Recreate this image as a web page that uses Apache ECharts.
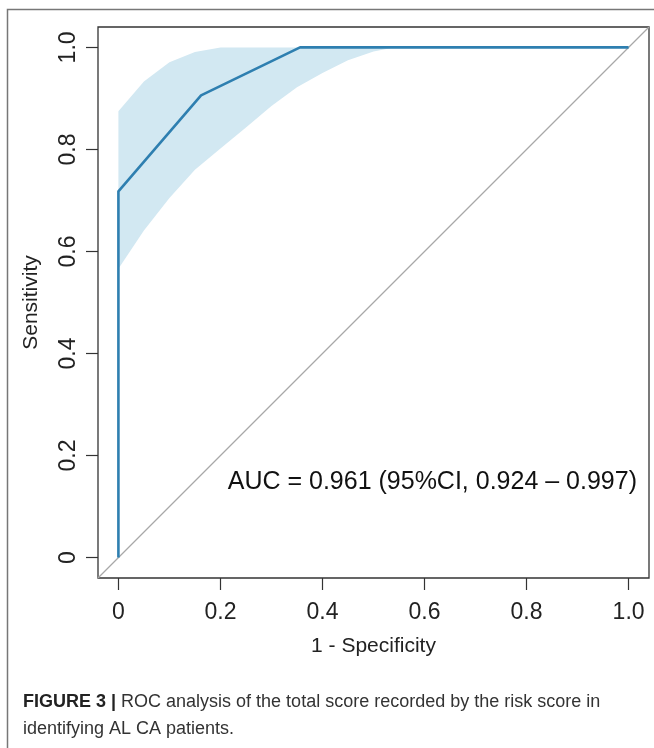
<!DOCTYPE html>
<html>
<head>
<meta charset="utf-8">
<script src="https://cdn.jsdelivr.net/npm/echarts@6/dist/echarts.min.js"></script>
<style>
  html, body { margin: 0; padding: 0; background: #fff; }
  #chart { width: 654px; height: 748px; }
</style>
</head>
<body>
<div id="chart"></div>
<script>
// ROC curve (1 - specificity, sensitivity)
const rocX = [0, 0, 0.162, 0.356, 1.0]
const rocY = [0, 0.718, 0.906, 1.0, 1.0]

// 95% CI band of sensitivity
const ciX = [0, 0.05, 0.1, 0.15, 0.2, 0.25, 0.3, 0.35, 0.4, 0.45, 0.5, 0.54, 1.0]
const ciUpper = [0.875, 0.933, 0.971, 0.991, 1.0, 1.0, 1.0, 1.0, 1.0, 1.0, 1.0, 1.0, 1.0]
const ciLower = [0.566, 0.641, 0.705, 0.760, 0.802, 0.843, 0.885, 0.922, 0.950, 0.975, 0.992, 1.0, 1.0]

// chance line
const diagX = [-0.04, 1.04]

const tickValues = [0, 0.2, 0.4, 0.6, 0.8, 1.0]
const aucText = 'AUC = 0.961 (95%CI, 0.924 \u2013 0.997)'

const chart = echarts.init(document.getElementById('chart'), null, { renderer: 'canvas' })

const fontFam = '"Liberation Sans", Arial, Helvetica, sans-serif'
const fmt = v => (v === 0 ? '0' : v.toFixed(1))

const axisCommon = {
  type: 'value',
  min: -0.04,
  max: 1.04,
  axisLine: { show: false, onZero: false },
  splitLine: { show: false },
  axisTick: { show: true, inside: false, length: 12, customValues: tickValues, lineStyle: { color: '#333', width: 1.2 } },
  nameLocation: 'middle',
  nameTextStyle: { fontFamily: fontFam, fontSize: 21, color: '#222' }
}

chart.setOption({
  animation: false,
  backgroundColor: '#fff',
  grid: {
    left: 98, top: 27, width: 551, height: 551,
    show: true, borderColor: '#333', borderWidth: 1.3, backgroundColor: '#fff'
  },
  xAxis: Object.assign({}, axisCommon, {
    name: '1 - Specificity',
    nameGap: 58,
    axisLabel: { customValues: tickValues, formatter: fmt, margin: 23, fontFamily: fontFam, fontSize: 23, color: '#222' }
  }),
  yAxis: Object.assign({}, axisCommon, {
    name: 'Sensitivity',
    nameGap: 56,
    axisLabel: { customValues: tickValues, formatter: fmt, margin: 18, rotate: 90, fontFamily: fontFam, fontSize: 23, color: '#222' }
  }),
  series: [
    {
      // CI band drawn as one polygon
      type: 'custom',
      silent: true,
      z: 1,
      data: [[0, 0]],
      renderItem(params, api) {
        const pts = []
        ciX.forEach((x, i) => pts.push(api.coord([x, ciUpper[i]])))
        for (let i = ciX.length - 1; i >= 0; i--) pts.push(api.coord([ciX[i], ciLower[i]]))
        return {
          type: 'polygon',
          shape: { points: pts },
          style: { fill: '#d2e8f2', stroke: null }
        }
      }
    },
    {
      type: 'line',
      silent: true,
      z: 2,
      symbol: 'none',
      data: diagX.map(v => [v, v]),
      lineStyle: { color: '#a8a8a8', width: 1.2 }
    },
    {
      type: 'line',
      silent: true,
      z: 3,
      symbol: 'none',
      data: rocX.map((x, i) => [x, rocY[i]]),
      lineStyle: { color: '#2e7fb0', width: 2.6 }
    }
  ],
  graphic: [
    // figure panel frame (top and left edges)
    {
      type: 'polyline',
      shape: { points: [[654, 9.5], [7.5, 9.5], [7.5, 748]] },
      style: { stroke: '#777', lineWidth: 1.5, fill: null }
    },
    {
      type: 'text',
      right: 17,
      top: 470,
      style: { text: aucText, fontFamily: fontFam, fontSize: 25, fill: '#111' }
    },
    {
      type: 'text',
      left: 23,
      top: 693,
      style: {
        text: '{b|FIGURE 3 |} ROC analysis of the total score recorded by the risk score in',
        fontFamily: fontFam,
        fontSize: 18,
        fill: '#333',
        rich: { b: { fontWeight: 'bold', fontFamily: fontFam, fontSize: 18, fill: '#222' } }
      }
    },
    {
      type: 'text',
      left: 23,
      top: 720,
      style: { text: 'identifying AL CA patients.', fontFamily: fontFam, fontSize: 18, fill: '#333' }
    }
  ]
})
</script>
</body>
</html>
